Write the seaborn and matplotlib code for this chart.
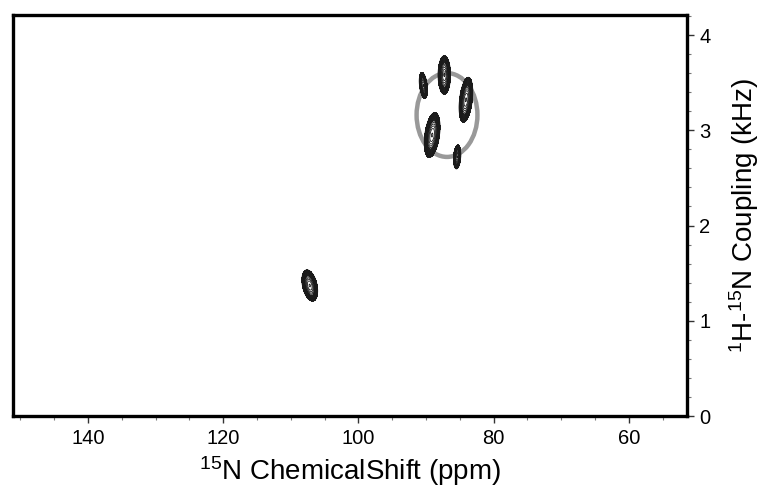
import numpy as np
import matplotlib
matplotlib.use("Agg")
import matplotlib.pyplot as plt
from matplotlib.patches import Ellipse
from matplotlib.ticker import MultipleLocator
import seaborn as sns

# ---- data ----
peak_ppm   = [107.2, 90.4, 87.3, 84.1, 89.1, 85.4]
peak_khz   = [1.37, 3.47, 3.58, 3.32, 2.95, 2.72]
peak_sd_ppm = [0.52, 0.27, 0.41, 0.45, 0.52, 0.24]
peak_sd_khz = [0.073, 0.061, 0.090, 0.105, 0.105, 0.056]
peak_rho   = [0.35, 0.35, 0.0, -0.35, -0.35, -0.2]

wheel_center = (86.9, 3.16)
wheel_width_ppm = 9.0
wheel_height_khz = 0.88

x_ticks = [140, 120, 100, 80, 60]
y_ticks = [0, 1, 2, 3, 4]
x_lim = (151.1, 51.4)
y_lim = (0.0, 4.21)

sns.set_style("white")
plt.rcParams['font.family'] = ['Liberation Sans', 'DejaVu Sans']
plt.rcParams['mathtext.fontset'] = 'custom'
plt.rcParams['mathtext.rm'] = 'Liberation Sans'
plt.rcParams['mathtext.it'] = 'Liberation Sans:italic'
plt.rcParams['text.color'] = 'black'
plt.rcParams['axes.labelcolor'] = 'black'
plt.rcParams['xtick.color'] = 'black'
plt.rcParams['ytick.color'] = 'black'

fig = plt.figure(figsize=(7.69, 4.98), dpi=100)
ax = fig.add_axes([13/769, 1 - 416/498, (687-13)/769, (416-15)/498])

# spectrum surface from the peak list
ppm = np.linspace(52, 151, 1800)
khz = np.linspace(0, 4.2, 1000)
X, Y = np.meshgrid(ppm, khz)
Z = np.zeros_like(X)
for p, k, sx, sy, r in zip(peak_ppm, peak_khz, peak_sd_ppm, peak_sd_khz, peak_rho):
    dx = (X - p) / sx
    dy = (Y - k) / sy
    Z += np.exp(-(dx**2 - 2*r*dx*dy + dy**2) / (2*(1 - r**2)))

levels = np.geomspace(0.08, 0.98, 14)
ax.contourf(X, Y, Z, levels=[0.08, 0.35], colors=['#2a2a2a'])
ax.contour(X, Y, Z, levels=levels, colors='#1a1a1a', linewidths=0.6)

ax.add_patch(Ellipse(wheel_center, wheel_width_ppm, wheel_height_khz,
                     fill=False, edgecolor='#999999', linewidth=3.2, zorder=0.5))

ax.set_xlim(*x_lim)
ax.set_ylim(*y_lim)
ax.set_xticks(x_ticks)
ax.set_yticks(y_ticks)
ax.xaxis.set_minor_locator(MultipleLocator(5))
ax.yaxis.set_minor_locator(MultipleLocator(0.2))
ax.yaxis.tick_right()
ax.yaxis.set_label_position('right')
ax.tick_params(which='major', length=5, width=1.0, color='#333333', labelsize=14.5, pad=4,
               labelcolor='black', bottom=True, right=True, left=False, top=False)
ax.tick_params(which='minor', length=3, width=0.8, color='#777777',
               bottom=True, right=True, left=False, top=False)
for s in ax.spines.values():
    s.set_linewidth(2.4)
    s.set_color('black')

ax.set_xlabel(r'$^{15}$N ChemicalShift (ppm)', fontsize=20, labelpad=5, color='black')
ax.set_ylabel(r'$^{1}$H-$^{15}$N Coupling (kHz)', fontsize=20, labelpad=12, color='black')

fig.savefig('out.png', dpi=100)
